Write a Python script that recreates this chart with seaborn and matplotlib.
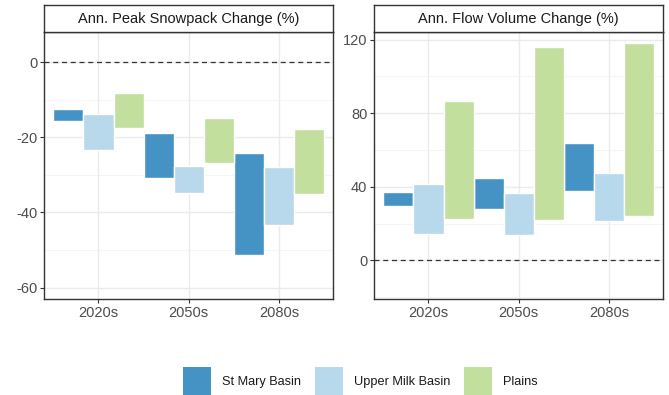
import matplotlib
matplotlib.use("Agg")
import matplotlib.pyplot as plt
import seaborn as sns
import pandas as pd
from matplotlib.patches import Patch
from matplotlib.ticker import MultipleLocator

# ---------------- data ----------------
periods = ["2020s", "2050s", "2080s"]
basins = ["St Mary Basin", "Upper Milk Basin", "Plains"]
colors = ["#4592c4", "#b8d8eb", "#c3df9e"]
panels = ["Ann. Peak Snowpack Change (%)", "Ann. Flow Volume Change (%)"]

# Peak snowpack change (%): low / high ends of each range
snow_stmary_low = [-15.7, -30.9, -51.2]
snow_stmary_high = [-12.5, -18.9, -24.1]
snow_milk_low = [-23.5, -34.7, -43.2]
snow_milk_high = [-13.7, -27.7, -28.0]
snow_plains_low = [-17.5, -26.9, -35.0]
snow_plains_high = [-8.3, -14.8, -17.7]

# Annual flow volume change (%)
flow_stmary_low = [29.7, 28.1, 37.7]
flow_stmary_high = [37.0, 44.8, 63.9]
flow_milk_low = [14.5, 13.6, 21.5]
flow_milk_high = [41.5, 36.6, 47.5]
flow_plains_low = [22.5, 21.9, 24.1]
flow_plains_high = [86.5, 115.8, 118.2]

rows = []
series = {
    panels[0]: [(snow_stmary_low, snow_stmary_high),
                (snow_milk_low, snow_milk_high),
                (snow_plains_low, snow_plains_high)],
    panels[1]: [(flow_stmary_low, flow_stmary_high),
                (flow_milk_low, flow_milk_high),
                (flow_plains_low, flow_plains_high)],
}
for panel, lst in series.items():
    for basin, (lo, hi) in zip(basins, lst):
        for p, l, h in zip(periods, lo, hi):
            rows.append(dict(panel=panel, period=p, basin=basin,
                             low=l, high=h, span=h - l))
df = pd.DataFrame(rows)

# ---------------- style ----------------
sns.set_style("white")
plt.rcParams["font.family"] = ["Liberation Sans", "DejaVu Sans"]
plt.rcParams["axes.unicode_minus"] = False

W, H = 669, 395
fig = plt.figure(figsize=(W / 100, H / 100), dpi=100)

ax_w = 289 / W
ax_h = 267.6 / H
ax_b = (H - 299.3) / H
strip_h = 27.2 / H
lefts = [44.3 / W, 374.3 / W]
ylims = [(-63.1, 8.1), (-21.2, 124.3)]
major = [20, 40]
minor = [10, 20]

edge = "#333333"
for i, panel in enumerate(panels):
    ax = fig.add_axes([lefts[i], ax_b, ax_w, ax_h])
    sub = df[df.panel == panel]
    sns.barplot(data=sub, x="period", y="span", hue="basin",
                order=periods, hue_order=basins, palette=colors,
                width=1.0, dodge=True, errorbar=None, saturation=1,
                edgecolor="white", linewidth=1.0, legend=False, ax=ax)
    # turn bars into floating ranges using the low values
    for h, cont in enumerate(ax.containers):
        bsub = sub[sub.basin == basins[h]].set_index("period")
        for bar in cont:
            c = int(round(bar.get_x() + bar.get_width() / 2))
            lo = bsub.loc[periods[c], "low"]
            hi = bsub.loc[periods[c], "high"]
            bar.set_y(lo)
            bar.set_height(hi - lo)
    ax.axhline(0, color="#333333", lw=0.9, ls=(0, (4, 3)), zorder=3)
    ax.set_xlim(-0.6, 2.6)
    ax.set_ylim(*ylims[i])
    ax.yaxis.set_major_locator(MultipleLocator(major[i]))
    ax.yaxis.set_minor_locator(MultipleLocator(minor[i]))
    ax.set_axisbelow(True)
    ax.grid(which="major", color="#ebebeb", lw=1.0)
    ax.grid(which="minor", axis="y", color="#f2f2f2", lw=0.6)
    ax.set_xlabel("")
    ax.set_ylabel("")
    ax.tick_params(which="major", length=3, width=0.8, color=edge,
                   labelcolor="#4d4d4d", labelsize=10.5, pad=2,
                   left=True, bottom=True)
    ax.tick_params(which="minor", length=0)
    for s in ax.spines.values():
        s.set_color(edge)
        s.set_linewidth(1.0)

    sax = fig.add_axes([lefts[i], ax_b + ax_h, ax_w, strip_h])
    sax.set_xticks([])
    sax.set_yticks([])
    sax.set_facecolor("white")
    for s in sax.spines.values():
        s.set_color(edge)
        s.set_linewidth(1.0)
    sax.text(0.5, 0.48, panel, ha="center", va="center",
             fontsize=10.5, color="#1a1a1a", transform=sax.transAxes)

handles = [Patch(facecolor=c, edgecolor="none") for c in colors]
fig.legend(handles, basins, loc="center", bbox_to_anchor=(360.3 / W, 1 - 381.5 / H),
           ncol=3, frameon=False, fontsize=9.2, handlelength=2.22,
           handleheight=3.2, handletextpad=0.86, columnspacing=1.06,
           borderpad=0, labelcolor="#1a1a1a")

fig.savefig("out.png", dpi=100)
